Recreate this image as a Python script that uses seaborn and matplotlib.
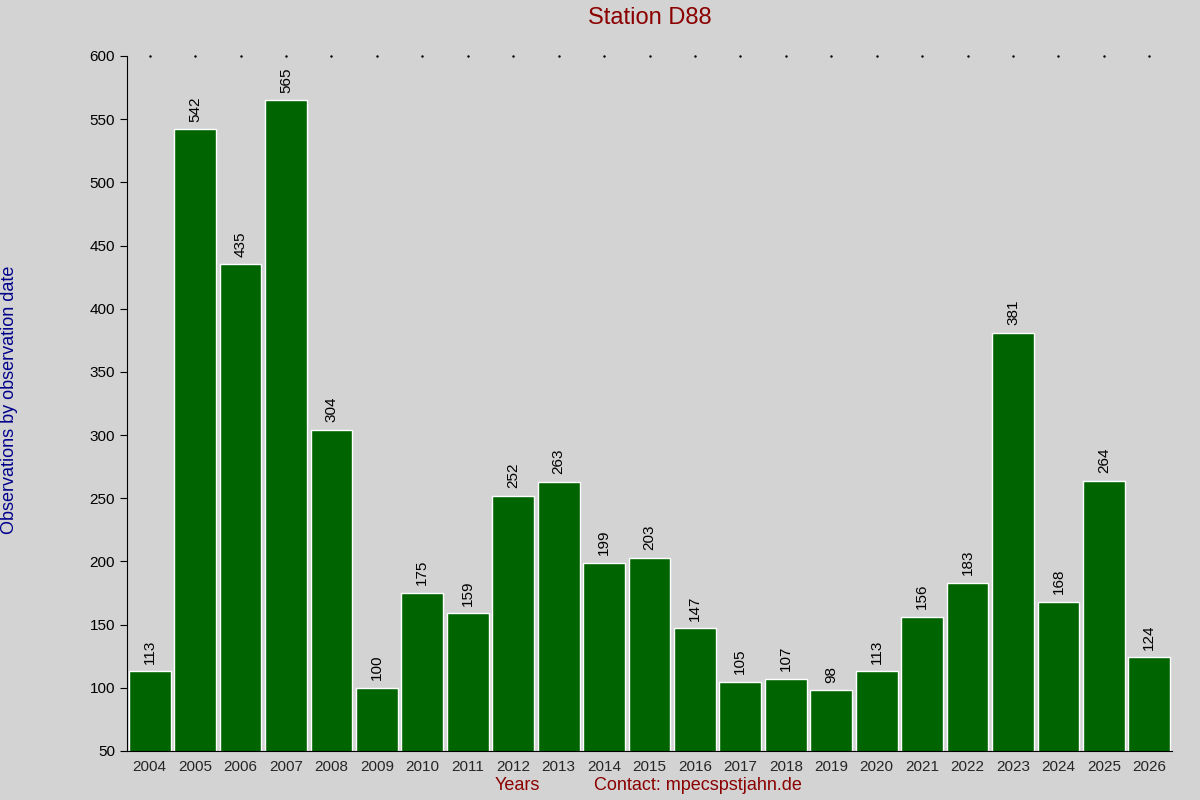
import matplotlib
matplotlib.use("Agg")
import matplotlib.pyplot as plt
import seaborn as sns
import pandas as pd

years = [str(y) for y in range(2004, 2027)]
counts = [113, 542, 435, 565, 304, 100, 175, 159, 252, 263, 199, 203, 147, 105, 107, 98, 113, 156, 183, 381, 168, 264, 124]

sns.set_style("white")
plt.rcParams['font.family'] = ['Liberation Sans', 'DejaVu Sans']
bg = '#d3d3d3'
fig = plt.figure(figsize=(12, 8), dpi=100, facecolor=bg)
ax = fig.add_axes([127/1200, 1-751/800, (1172-127)/1200, (751-56)/800])
ax.set_facecolor(bg)
df = pd.DataFrame({'year': years, 'n': counts})
sns.barplot(data=df, x='year', y='n', color='#006400', saturation=1, width=0.92, ax=ax)
ax.set_ylim(50, 600)
ax.set_xlim(-0.5, len(years) - 0.5)
ax.set_yticks(range(50, 601, 50))
for i, v in enumerate(counts):
    ax.text(i, v + 6, str(v), rotation=90, ha='center', va='bottom', fontsize=11, color='black')
for s in ['top', 'right']:
    ax.spines[s].set_visible(False)
ax.spines['left'].set_color('black')
ax.spines['bottom'].set_color('black')
ax.tick_params(axis='y', left=True, length=5, labelsize=11, colors='black')
ax.tick_params(axis='x', bottom=False, labelsize=11, pad=3)
for i in range(len(years)):
    ax.plot(i, 600, marker='.', ms=1.5, color='black', clip_on=False)
ax.set_xlabel('')
ax.set_ylabel('')
fig.text(0.5417, 1-18/800, 'Station D88', ha='center', va='center', fontsize=17, color='#8b0000')
fig.text(10/1200, 0.5, 'Observations by observation date', rotation=90, ha='center', va='center', fontsize=13, color='#00008b')
fig.text(517/1200, 1-786/800, 'Years', ha='center', va='center', fontsize=13, color='#8b0000')
fig.text(698/1200, 1-786/800, 'Contact: mpecspstjahn.de', ha='center', va='center', fontsize=13, color='#8b0000')
fig.savefig('out.png', dpi=100, facecolor=bg)
